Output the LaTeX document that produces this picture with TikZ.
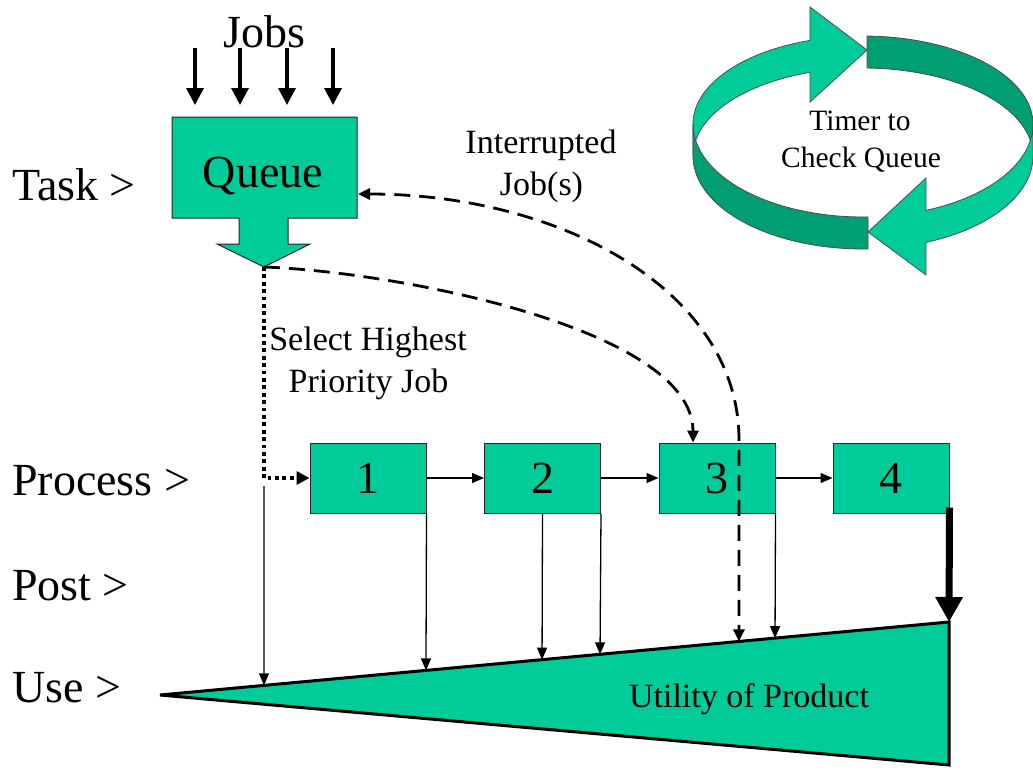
\documentclass[tikz,border=0pt]{standalone}
\usepackage{fontspec}
\setmainfont{Liberation Serif}
\usetikzlibrary{arrows.meta,calc}

\definecolor{procgreen}{RGB}{0,204,153}
\definecolor{ribbondark}{RGB}{0,158,115}

\tikzset{
  biglabel/.style={font=\fontsize{46}{50}\selectfont, inner sep=0pt},
  midlabel/.style={font=\fontsize{34}{40}\selectfont, inner sep=0pt},
  timerlabel/.style={font=\fontsize{29.5}{34}\selectfont, inner sep=0pt},
  procbox/.style={draw=black!85, line width=1pt, fill=procgreen,
    minimum width=116pt, minimum height=70pt, inner sep=0pt,
    font=\fontsize{46}{50}\selectfont},
  thinarrow/.style={line width=1.3pt, -{Triangle[length=12pt,width=10pt]}},
  jobarrow/.style={line width=3.5pt, -{Triangle[length=17pt,width=17pt]}},
  heavyarrow/.style={line width=7pt, -{Triangle[length=25pt,width=26pt]}},
  dasharrow/.style={line width=2.8pt, dash pattern=on 16pt off 9pt},
  dottedarrow/.style={line width=3.8pt, dash pattern=on 3.8pt off 3.6pt,
    -{Triangle[length=13pt,width=13pt]}},
  ribbon/.style={draw=black!70, line width=0.8pt},
}

\begin{document}
\begin{tikzpicture}[x=1pt, y=-1pt]
\useasboundingbox (0,0) rectangle (1033,769);

% ---------- row labels ----------
\node[biglabel, anchor=base west] (task) at (12,200) {Task >};
\node[biglabel, anchor=base west] (process) at (12,495) {Process >};
\node[biglabel, anchor=base west] (post) at (12,600) {Post >};
\node[biglabel, anchor=base west] (use) at (12,702) {Use >};

% ---------- queue with its outlet arrow ----------
\draw[draw=black!85, line width=1pt, fill=procgreen]
  (172,117) -- (357,117) -- (357,218) -- (288,218) -- (288,244) -- (310,244)
  -- (264,267) -- (217,244) -- (239,244) -- (239,218) -- (172,218) -- cycle;
\coordinate (qtip) at (264,267);
\coordinate (qin) at (358,194);
\node[biglabel, anchor=base] (queue) at (263,187) {Queue};

% incoming jobs
\node[biglabel, anchor=base] (jobs) at (264.5,47) {Jobs};
\foreach \jx [count=\i] in {195,240,287,333} {
  \coordinate (jtop\i) at (\jx,48);
  \coordinate (jend\i) at (\jx,105);
  \draw[jobarrow] (jtop\i) -- (jend\i);
}

% ---------- timer ribbon ----------
% far side: light arrow (upper left) and dark back (upper right)
\fill[procgreen, ribbon]
  (810,7) -- (867,50) -- (810,102) -- (810,72.4)
  -- plot[domain=108.2:180, samples=40] ({863+170*cos(\x)},{156-88*sin(\x)})
  -- plot[domain=180:108.2, samples=40] ({863+170*cos(\x)},{124-88*sin(\x)})
  -- cycle;
\fill[ribbondark, ribbon]
  plot[domain=88.65:0, samples=40] ({863+170*cos(\x)},{124-88*sin(\x)})
  -- plot[domain=0:88.65, samples=40] ({863+170*cos(\x)},{156-88*sin(\x)})
  -- cycle;
% near side: dark back (lower left) and light arrow (lower right)
\fill[ribbondark, ribbon]
  plot[domain=88.3:180, samples=40] ({863+170*cos(\x)},{124+93*sin(\x)})
  -- plot[domain=180:88.3, samples=40] ({863+170*cos(\x)},{156+93*sin(\x)})
  -- cycle;
\fill[procgreen, ribbon]
  (926,178) -- (868,232) -- (926,275) -- (926,242.4)
  -- plot[domain=68.25:0, samples=40] ({863+170*cos(\x)},{156+93*sin(\x)})
  -- plot[domain=0:68.25, samples=40] ({863+170*cos(\x)},{124+93*sin(\x)})
  -- cycle;
\node[timerlabel, anchor=base] (timer1) at (860,130) {Timer to};
\node[timerlabel, anchor=base] (timer2) at (861,167) {Check Queue};

% ---------- utility wedge ----------
\coordinate (W1) at (160,695);
\coordinate (W2) at (949,622);
\coordinate (W3) at (949,765);
\draw[line width=3pt, fill=procgreen] (W1) -- (W2) -- (W3) -- cycle;
\node[midlabel, anchor=base] (utility) at (749,707) {Utility of Product};

% ---------- process steps ----------
\node[procbox] (b1) at (368,478) {1};
\node[procbox] (b2) at (542.5,478) {2};
\node[procbox] (b3) at (717,478) {3};
\node[procbox] (b4) at (891,478) {4};

\draw[thinarrow] (b1.east) -- (b2.west);
\draw[thinarrow] (b2.east) -- (b3.west);
\draw[thinarrow] (b3.east) -- (b4.west);

% selection of the next job
\draw[dottedarrow] (qtip) |- (b1.west);
\node[midlabel, anchor=base] (sel1) at (368,350) {Select Highest};
\node[midlabel, anchor=base] (sel2) at (368.5,392) {Priority Job};

% contributions to the product's utility
\coordinate (selfoot) at (264,486);
\draw[thinarrow] (selfoot) -- ($(W1)!0.1318!(W2)$);
\draw[thinarrow] (b1.south east) -- ($(W1)!0.3371!(W2)$);
\draw[thinarrow] (b2.south) -- ($(W1)!0.4842!(W2)$);
\draw[thinarrow] (b2.south east) -- ($(W1)!0.5577!(W2)$);
\draw[thinarrow] (b3.south east) -- ($(W1)!0.7795!(W2)$);
\draw[heavyarrow] ($(b4.south east)+(0,-6)$) -- (W2);

% queue straight into step 3
\draw[dasharrow, -{Triangle[length=12pt,width=11pt]}]
  (qtip) .. controls (400,272) and ($(b3.north)+(-24,-113)$) .. ($(b3.north)+(-24,0)$);

% interrupted jobs back to the queue and on to post-processing
\coordinate (intbend) at (739,440);
\draw[dasharrow, {Triangle[length=12pt,width=11pt]}-{Triangle[length=12pt,width=11pt]}]
  (qin) .. controls (560,194) and (739,290) .. (intbend) -- ($(W1)!0.7338!(W2)$);
\node[midlabel, anchor=base] (int1) at (541,153) {Interrupted};
\node[midlabel, anchor=base] (int2) at (541.5,195) {Job(s)};

\end{tikzpicture}
\end{document}
